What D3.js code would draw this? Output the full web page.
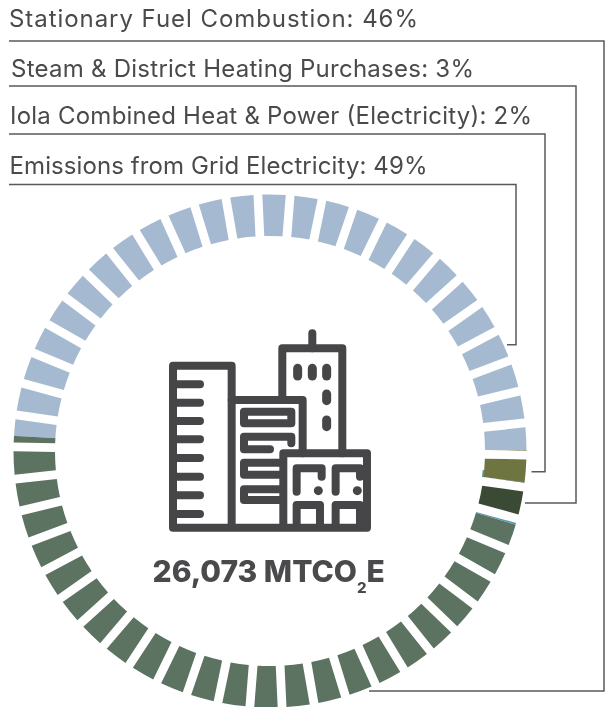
<!DOCTYPE html>
<html>
<head>
<meta charset="utf-8">
<script src="https://cdn.jsdelivr.net/npm/d3@7"></script>
<style>
html,body{margin:0;padding:0;background:#fff}
svg{display:block}
text{font-family:Inter,"Open Sans",sans-serif;fill:#4a4a4c}
</style>
</head>
<body>
<svg id="c" width="605" height="707"></svg>
<script>
const sliceNames = ["Emissions from Grid Electricity","Iola Combined Heat & Power (Electricity)","Steam & District Heating Purchases","Other","Stationary Fuel Combustion"];
const sliceValues = [49, 2, 2.4, 0.3, 46.3];
const sliceColors = ["#a5bad1","#6e7541","#3a4a34","#5b9db5","#5d7362"];
const segmentCount = 50;
const labelTexts = ["Stationary Fuel Combustion: 46%","Steam & District Heating Purchases: 3%","Iola Combined Heat & Power (Electricity): 2%","Emissions from Grid Electricity: 49%"];
const labelX = [9,11,10,9.5];
const labelY = [27,77,124,174];
const labelWidths = [409,463,522,418];
const leaderPaths = ["M9,41H604V691H369","M9,86H576V503H525","M9,134H545V471.7H531.5","M9,184.5H516V344.7H507"];
const totalMain = "26,073 MTCO";

const svg = d3.select("#c");
const cx = 270, cy = 451, rOuter = 256.5, rInner = 215;
const rad = d => d*Math.PI/180;
const startDeg = -86.6;
const pie = d3.pie().sort(null).value(d=>d).startAngle(rad(startDeg)).endAngle(rad(startDeg+360));
const arcs = pie(sliceValues);

const segStep = 360/segmentCount, segOffset = 0.9;
const segArc = d3.arc().innerRadius(rInner).outerRadius(rOuter);
const segs = d3.range(segmentCount).map(i=>({
  startAngle: rad(segOffset+i*segStep-segStep/2),
  endAngle: rad(segOffset+i*segStep+segStep/2),
  padAngle: rad(1.5), padRadius: rOuter
}));
svg.append("defs").append("mask").attr("id","ring")
  .attr("maskUnits","userSpaceOnUse").attr("x",0).attr("y",0).attr("width",605).attr("height",707)
  .selectAll("path").data(segs).join("path")
  .attr("transform",`translate(${cx},${cy})`).attr("d",segArc).attr("fill","#fff");

svg.append("path").attr("transform",`translate(${cx},${cy})`)
  .attr("d",d3.arc().innerRadius(rInner-1.5).outerRadius(rInner+1).startAngle(rad(95.1)).endAngle(rad(97))())
  .attr("fill",sliceColors[3]);

const ring = svg.append("g").attr("mask","url(#ring)");
const sliceArc = d3.arc().innerRadius(rInner-2).outerRadius(rOuter+2);
ring.selectAll("path").data(arcs).join("path")
  .attr("transform",`translate(${cx},${cy})`)
  .attr("d",sliceArc)
  .attr("fill",(d,i)=>sliceColors[i]);

svg.append("g").selectAll("path").data(leaderPaths).join("path")
  .attr("d",d=>d).attr("fill","none").attr("stroke","#5a5a5c").attr("stroke-width",1.5);

svg.append("g").selectAll("text").data(labelTexts).join("text")
  .attr("x",(d,i)=>labelX[i]).attr("y",(d,i)=>labelY[i])
  .attr("font-size",24)
  .attr("textLength",(d,i)=>labelWidths[i]).attr("lengthAdjust","spacing")
  .text(d=>d);

const t = svg.append("text").attr("x",152.5).attr("y",581.5).attr("font-size",30).attr("font-weight",800);
t.append("tspan").text(totalMain);
t.append("tspan").attr("font-size",15).attr("dy",11).text("2");
t.append("tspan").attr("dy",-11).text("E");

const icon = svg.append("g").attr("transform","translate(150,320) scale(0.3333)")
  .attr("fill","none").attr("stroke","#464648").attr("stroke-width",24)
  .attr("stroke-linecap","round").attr("stroke-linejoin","round");
const iconPaths = [
 "M245,623V137H69V623H651V400H400V623",
 "M245,240H458V400",
 "M397,240V85H577V400",
 "M487,85V40",
 "M69,193H150M69,248H150M69,303H150M69,358H150M69,414H150M69,470H150M69,526H150M69,582H150",
 "M282,275H424V310H282Z",
 "M424,370V350H282V388H360",
 "M390,428H282V464H390",
 "M390,508H282V540H390",
 "M440,515V445H515V470",
 "M557,515V445H630V470",
 "M440,615V555H510V615",
 "M557,615V555H630V615"
];
icon.selectAll("path.p").data(iconPaths).join("path").attr("class","p").attr("d",d=>d);
const pills = ["M443,145V168","M487,145V168","M530,145V168","M530,222V242","M530,300V320","M505,512V512.1","M622,512V512.1"];
icon.selectAll("path.q").data(pills).join("path").attr("class","q").attr("stroke-width",27).attr("d",d=>d);
</script>
</body>
</html>
